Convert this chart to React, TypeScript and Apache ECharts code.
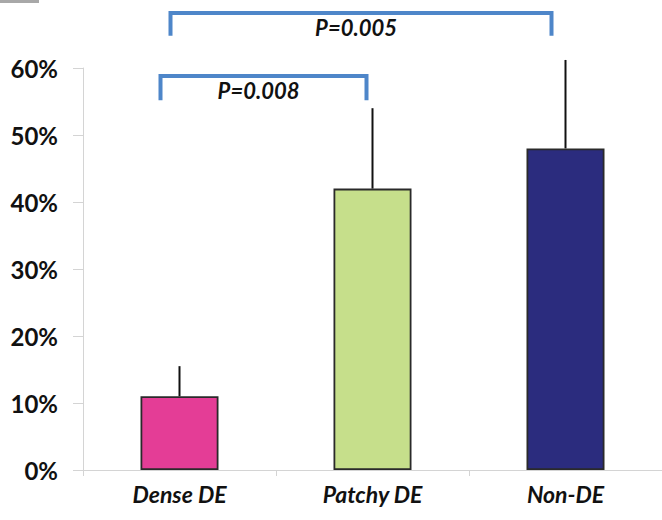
import React, { useEffect, useRef } from "react";
import * as echarts from "echarts";

const categories = ["Dense DE", "Patchy DE", "Non-DE"];
const values = [11, 42, 48];
const errorUpper = [15.5, 54, 61.2];
const barColors = ["#E43D96", "#C6DF8B", "#2B2C7E"];
const yTickValues = [0, 10, 20, 30, 40, 50, 60];
const bracketFrom = [0, 0];
const bracketTo = [2, 1];
const bracketLow = [64.8, 55.2];
const bracketHigh = [68.2, 58.8];
const bracketLabels = ["P=0.005", "P=0.008"];

export default function App() {
  const ref = useRef<HTMLDivElement>(null);
  useEffect(() => {
    document.body.style.margin = "0";
    const chart = echarts.init(ref.current!, null, { renderer: "svg" });
    const fromOffsets = [-9, -19];
    const toOffsets = [-14, -6];
    const option: any = {
      animation: false,
      backgroundColor: "#ffffff",
      grid: { left: 83, top: 68, width: 582, height: 402, containLabel: false },
      xAxis: {
        type: "category",
        data: categories,
        boundaryGap: true,
        axisLine: { show: true, lineStyle: { color: "#d4d4d4", width: 1 } },
        axisTick: { show: true, length: 6, lineStyle: { color: "#d4d4d4" } },
        axisLabel: {
          margin: 12,
          color: "#111",
          fontSize: 23,
          fontWeight: "bold",
          fontStyle: "italic",
          fontFamily: "Lato",
        },
      },
      yAxis: {
        type: "value",
        min: yTickValues[0],
        max: yTickValues[yTickValues.length - 1],
        interval: 10,
        axisLine: { show: true, lineStyle: { color: "#d4d4d4", width: 1 } },
        axisTick: { show: true, length: 10, lineStyle: { color: "#d4d4d4" } },
        splitLine: { show: false },
        axisLabel: {
          formatter: "{value}%",
          margin: 25,
          color: "#111",
          fontSize: 24,
          fontWeight: "bold",
          fontFamily: "Lato",
        },
      },
      graphic: [
        { type: "rect", shape: { x: 0, y: 0, width: 39, height: 3 }, style: { fill: "#a8a8a8" } },
      ],
      series: [
        {
          type: "bar",
          barWidth: 78,
          data: values.map((v, i) => ({
            value: v,
            itemStyle: { color: barColors[i], borderColor: "#2a2a2a", borderWidth: 1.8 },
          })),
        },
        {
          type: "custom",
          clip: false,
          z: 5,
          data: values.map((v, i) => [i, v, errorUpper[i]]),
          encode: { x: 0, y: [1, 2] },
          renderItem: (params: any, api: any) => {
            const p0 = api.coord([api.value(0), api.value(1)]);
            const p1 = api.coord([api.value(0), api.value(2)]);
            return {
              type: "line",
              shape: { x1: p0[0], y1: p0[1], x2: p1[0], y2: p1[1] },
              style: { stroke: "#111", lineWidth: 2 },
            };
          },
        },
        {
          type: "custom",
          clip: false,
          z: 6,
          data: bracketFrom.map((f, i) => [f, bracketTo[i], bracketLow[i], bracketHigh[i], i]),
          encode: { x: [0, 1], y: [2, 3] },
          renderItem: (params: any, api: any) => {
            const idx = api.value(4);
            const a = api.coord([api.value(0), api.value(2)]);
            const b = api.coord([api.value(1), api.value(3)]);
            const x1 = a[0] + fromOffsets[idx];
            const x2 = b[0] + toOffsets[idx];
            const yLow = a[1];
            const yHigh = b[1];
            return {
              type: "group",
              children: [
                {
                  type: "polyline",
                  shape: { points: [[x1, yLow], [x1, yHigh], [x2, yHigh], [x2, yLow]] },
                  style: { stroke: "#4E86C9", lineWidth: 4, fill: null },
                },
                {
                  type: "text",
                  x: (x1 + x2) / 2 - 5,
                  y: yHigh + 14,
                  style: {
                    text: bracketLabels[idx],
                    fill: "#111",
                    font: "italic bold 22px Lato",
                    align: "center",
                    verticalAlign: "middle",
                  },
                },
              ],
            };
          },
        },
      ],
    };
    chart.setOption(option);
    return () => chart.dispose();
  }, []);
  return <div ref={ref} style={{ width: 662, height: 520 }} />;
}
